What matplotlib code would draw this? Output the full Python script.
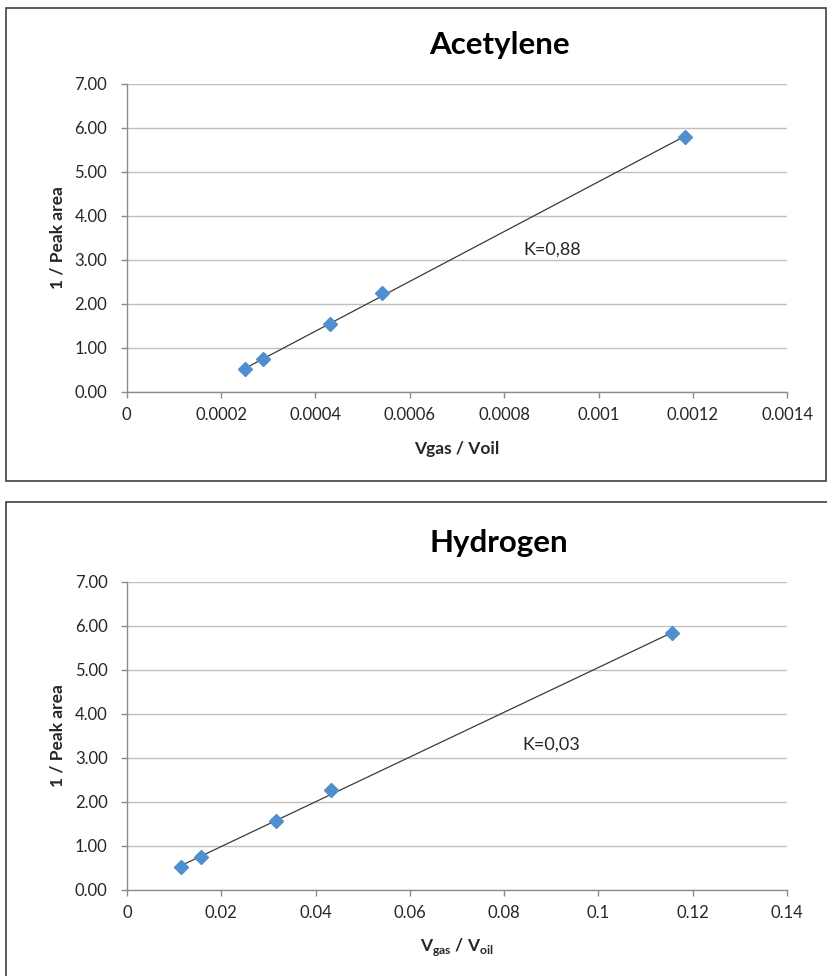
import matplotlib
matplotlib.use("Agg")
import matplotlib.pyplot as plt
from matplotlib.patches import Rectangle
import numpy as np

plt.rcParams['font.family'] = ['Lato', 'DejaVu Sans']
plt.rcParams['mathtext.fontset'] = 'custom'
plt.rcParams['mathtext.rm'] = 'Lato'
plt.rcParams['mathtext.bf'] = 'Lato:bold'

# Data
acet_x = [0.000251, 0.000288, 0.000431, 0.000541, 0.001183]
acet_y = [0.52, 0.74, 1.54, 2.24, 5.80]
h2_x = [0.01145, 0.0157, 0.0316, 0.0433, 0.1157]
h2_y = [0.52, 0.75, 1.56, 2.27, 5.83]

y_ticks = [0, 1, 2, 3, 4, 5, 6, 7]
acet_xticks = [0, 0.0002, 0.0004, 0.0006, 0.0008, 0.001, 0.0012, 0.0014]
acet_xlabels = ['0', '0.0002', '0.0004', '0.0006', '0.0008', '0.001', '0.0012', '0.0014']
h2_xticks = [0, 0.02, 0.04, 0.06, 0.08, 0.1, 0.12, 0.14]
h2_xlabels = ['0', '0.02', '0.04', '0.06', '0.08', '0.1', '0.12', '0.14']

W, H = 828, 976
fig = plt.figure(figsize=(W / 100, H / 100), dpi=100)

text_col = '#262626'
axis_col = '#8C8C8C'
grid_col = '#C0C0C0'
marker_col = '#4F8FD0'


def px_rect(x0, y0, x1, y1):
    return [x0 / W, 1 - y1 / H, (x1 - x0) / W, (y1 - y0) / H]


def draw_panel(rect, xs, ys, xticks, xlabels, xlabel, k_text, k_pos, title, title_y):
    ax = fig.add_axes(px_rect(*rect))
    ax.set_xlim(xticks[0], xticks[-1])
    ax.set_ylim(0, 7)
    ax.set_yticks(y_ticks)
    ax.set_yticklabels([f'{v:.2f}' for v in y_ticks])
    ax.set_xticks(xticks)
    ax.set_xticklabels(xlabels)
    ax.grid(axis='y', color=grid_col, linewidth=1.0)
    ax.set_axisbelow(True)
    for s in ['top', 'right']:
        ax.spines[s].set_visible(False)
    for s in ['left', 'bottom']:
        ax.spines[s].set_color(axis_col)
        ax.spines[s].set_linewidth(1.0)
    ax.tick_params(axis='both', colors=axis_col, labelcolor=text_col,
                   labelsize=12, length=4, width=1.0)
    ax.tick_params(axis='x', pad=7)
    ax.tick_params(axis='y', pad=10)

    # trendline
    coef = np.polyfit(xs, ys, 1)
    lx = np.array([min(xs), max(xs)])
    ax.plot(lx, np.polyval(coef, lx), color='#3A3A3A', linewidth=0.9, zorder=3)
    ax.plot(xs, ys, linestyle='none', marker='D', markersize=7.5,
            color=marker_col, markeredgecolor=marker_col, zorder=4)

    ax.text(k_pos[0], k_pos[1], k_text, fontsize=13, color=text_col,
            ha='left', va='center')

    ax.set_ylabel('1 / Peak area', fontsize=12.5, fontweight='bold', color=text_col,
                  va='center')
    ax.yaxis.set_label_coords(-0.105, 0.5)
    ax.set_xlabel(xlabel, fontsize=12.5, fontweight='bold', color=text_col)
    ax.xaxis.set_label_coords(0.5, -0.185)
    ax.xaxis.label.set_va('center')

    fig.text(499 / W, 1 - title_y / H, title, fontsize=22.5, fontweight='bold',
             color='black', ha='center', va='center')
    return ax


draw_panel((126.7, 84, 787.3, 392), acet_x, acet_y, acet_xticks, acet_xlabels,
           'Vgas / Voil', 'K=0,88', (0.00084, 3.23), 'Acetylene', 45)
draw_panel((127, 582, 787, 890), h2_x, h2_y, h2_xticks, h2_xlabels,
           r'V$_{\mathbf{gas}}$ / V$_{\mathbf{oil}}$', 'K=0,03', (0.0838, 3.30),
           'Hydrogen', 543)

# chart frames
fig.patches.append(Rectangle((6 / W, 1 - 481 / H), 820 / W, 473 / H,
                             transform=fig.transFigure, fill=False,
                             edgecolor='#404040', linewidth=1.2))
fig.patches.append(Rectangle((6 / W, -0.05), 830 / W, 1 - 502 / H + 0.05,
                             transform=fig.transFigure, fill=False,
                             edgecolor='#404040', linewidth=1.2))

fig.savefig('out.png', dpi=100)
